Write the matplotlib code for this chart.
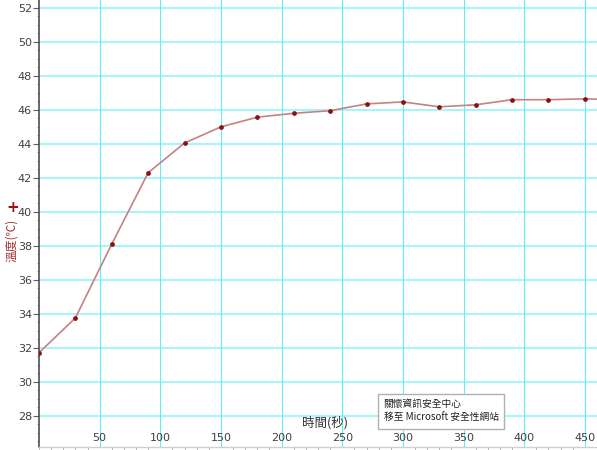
import matplotlib
matplotlib.use("Agg")
from matplotlib import pyplot as plt
from matplotlib.ticker import MultipleLocator

plt.rcParams['font.family'] = ['DejaVu Sans', 'Noto Sans CJK TC']

# time (s) and temperature readings
seconds = [0, 30, 60, 90, 120, 150, 180, 210, 240, 270, 300, 330, 360, 390, 420, 450, 480]
temps = [31.7, 33.75, 38.1, 42.3, 44.05, 45.0, 45.57, 45.8, 45.95, 46.35, 46.47, 46.18, 46.3,
         46.6, 46.6, 46.65, 46.6]

xticks = [50, 100, 150, 200, 250, 300, 350, 400, 450]
yticks = [28, 30, 32, 34, 36, 38, 40, 42, 44, 46, 48, 50, 52]

fig = plt.figure(figsize=(5.97, 4.5), dpi=100)
ax = fig.add_axes([39 / 597, 3 / 450, 1 - 39 / 597, 1 - 3 / 450])

ax.set_xlim(0, 460)
ax.set_ylim(26.15, 52.47)

# grid: thick pale cyan horizontals, thin cyan verticals
for t in yticks:
    ax.axhline(t, color='#a8f4f8', lw=1.5, zorder=0)
for t in xticks:
    ax.axvline(t, color='#60eef8', lw=0.8, zorder=0)

ax.plot(seconds, temps, color='#c88080', lw=1.2, zorder=2)
ax.plot(seconds, temps, ls='none', marker='o', ms=2.4, color='#8b1010', zorder=3)

ax.set_xticks(xticks)
ax.set_yticks(yticks)
ax.xaxis.set_minor_locator(MultipleLocator(10))
ax.yaxis.set_minor_locator(MultipleLocator(0.5))
ax.tick_params(axis='x', which='major', direction='in', length=0, pad=-10,
               labelsize=8, labelcolor='#404040')
ax.tick_params(axis='x', which='minor', direction='out', length=2, color='#b0b0b0')
ax.tick_params(axis='y', which='major', direction='out', length=4, pad=1,
               labelsize=8, labelcolor='#404040', color='#606060')
ax.tick_params(axis='y', which='minor', direction='out', length=1.5, color='#909090')

for s in ['top', 'right']:
    ax.spines[s].set_visible(False)
ax.spines['left'].set_color('#505050')
ax.spines['left'].set_linewidth(1.2)
ax.spines['bottom'].set_color('#d0d0d0')
ax.spines['bottom'].set_linewidth(1.0)

ax.text(236, 27.55, '時間(秒)', ha='center', va='center', fontsize=9,
        color='#303030', family=['Noto Sans CJK TC'])
fig.text(12 / 597, 1 - 240 / 450, '溫度(℃)', rotation=90, ha='center', va='center',
         fontsize=8.5, color='#a03030', family=['Noto Sans CJK TC', 'DejaVu Sans'])
fig.text(13 / 597, 1 - 208 / 450, '+', ha='center', va='center', fontsize=11,
         fontweight='bold', color='#a01010')

# hover box
ax.text(284, 28.25, '關懷資訊安全中心\n移至 Microsoft 安全性網站', ha='left', va='center',
        fontsize=7, linespacing=1.5, color='#202020', family=['Noto Sans CJK TC'],
        bbox=dict(boxstyle='square,pad=0.55', fc='white', ec='#b0b0b0', lw=1), zorder=5)

fig.savefig('out.png', dpi=100)
